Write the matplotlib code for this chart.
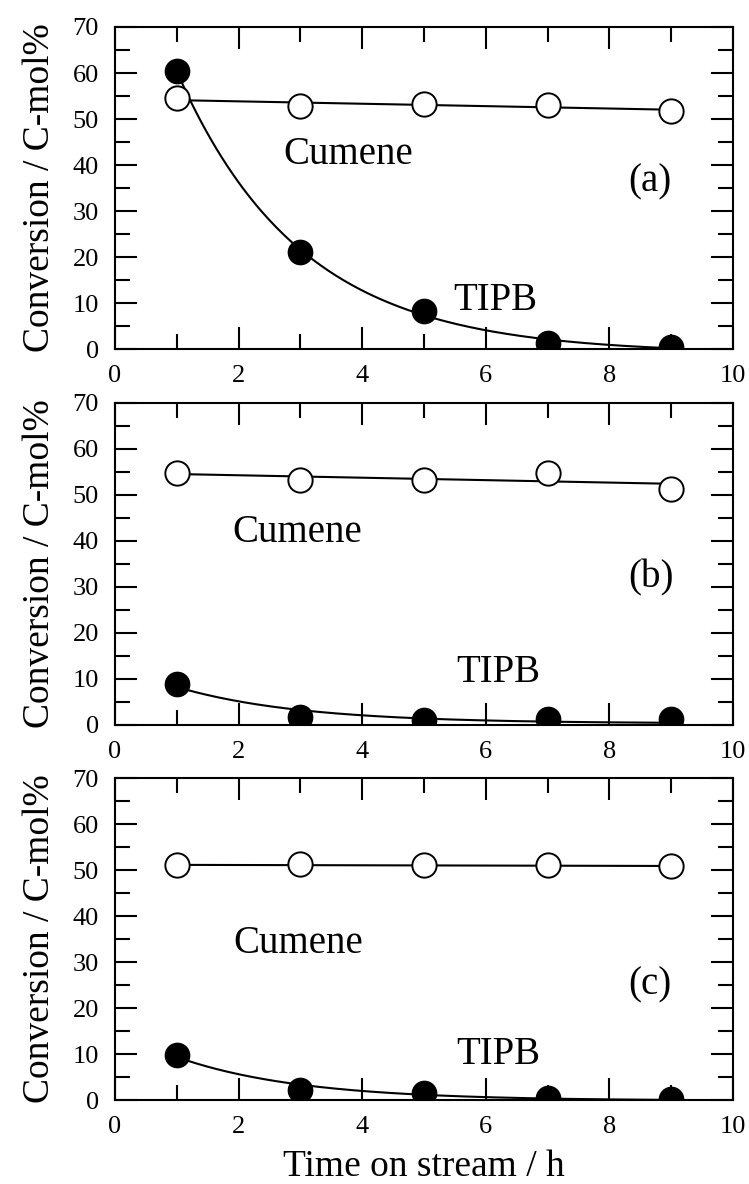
import numpy as np
import matplotlib.pyplot as plt

# time on stream (h)
hours = [1, 3, 5, 7, 9]

# conversion (C-mol%) for the three catalysts
cumene_a = [54.5, 52.8, 53.2, 53.0, 51.8]
tipb_a = [60.5, 21.0, 8.3, 1.3, 0.5]
cumene_b = [54.7, 53.3, 53.3, 54.8, 51.3]
tipb_b = [8.8, 1.8, 1.0, 1.3, 1.2]
cumene_c = [51.0, 51.2, 51.0, 51.0, 50.8]
tipb_c = [9.7, 2.2, 1.6, 0.5, 0.2]

panel_tags = ['(a)', '(b)', '(c)']

plt.rcParams['font.family'] = ['Liberation Serif', 'DejaVu Serif']

TAU = 2.0  # decay time constant (h) used for the TIPB curves


def decay_fit(x, y, tau=TAU):
    """y = a*exp(-(x-x0)/tau) + c, a and c by least squares"""
    x = np.asarray(x, float)
    y = np.asarray(y, float)
    A = np.column_stack([np.exp(-(x - x[0]) / tau), np.ones_like(x)])
    (a, c), *_ = np.linalg.lstsq(A, y, rcond=None)
    xs = np.linspace(x[0], x[-1], 200)
    return xs, a * np.exp(-(xs - x[0]) / tau) + c


fig = plt.figure(figsize=(7.49, 11.84), dpi=100)
left, width, height = 0.1535, 0.825, 0.272
bottoms = [0.7052, 0.3877, 0.0709]

panels = [(cumene_a, tipb_a), (cumene_b, tipb_b), (cumene_c, tipb_c)]
# label positions (x, y) in data units: cumene, tipb, tag
text_pos = [
    ((2.72, 42.2), (5.47, 10.6), (8.30, 36.3)),
    ((1.90, 41.8), (5.53, 11.3), (8.30, 32.0)),
    ((1.91, 34.1), (5.53, 9.8), (8.30, 25.0)),
]

for i, (cum, tipb) in enumerate(panels):
    ax = fig.add_axes([left, bottoms[i], width, height])

    # cumene: straight-line fit through open circles
    p = np.polyfit(hours, cum, 1)
    xs = np.linspace(hours[0], hours[-1], 50)
    ax.plot(xs, np.polyval(p, xs), color='black', lw=1.5, zorder=2)
    ax.plot(hours, cum, 'o', ms=17.5, mfc='white', mec='black', mew=1.4, zorder=3)

    # TIPB: smooth decay curve through filled circles
    xs, ys = decay_fit(hours, tipb)
    ax.plot(xs, ys, color='black', lw=1.5, zorder=2)
    ax.plot(hours, tipb, 'o', ms=17.5, mfc='black', mec='black', zorder=3)

    (cx, cy), (tx, ty), (gx, gy) = text_pos[i]
    ax.text(cx, cy, 'Cumene', fontsize=28, ha='left', va='center')
    ax.text(tx, ty, 'TIPB', fontsize=28, ha='left', va='center')
    ax.text(gx, gy, panel_tags[i], fontsize=28, ha='left', va='center')

    ax.set_xlim(0, 10)
    ax.set_ylim(0, 70)
    ax.set_xticks(np.arange(0, 11, 2))
    ax.set_xticks(np.arange(1, 10, 2), minor=True)
    ax.set_yticks(np.arange(0, 71, 10))
    ax.set_yticks(np.arange(5, 70, 10), minor=True)
    ax.tick_params(which='both', direction='in', top=True, right=True,
                   width=1.5, labelsize=19, pad=11.5)
    ax.tick_params(which='major', length=15.5)
    ax.tick_params(which='minor', length=10.5)
    for s in ax.spines.values():
        s.set_linewidth(1.5)
    ax.set_ylabel('Conversion / C-mol%', fontsize=27, labelpad=11)
    if i == 2:
        ax.set_xlabel('Time on stream / h', fontsize=27, labelpad=8)

fig.savefig('out.png', dpi=100)
